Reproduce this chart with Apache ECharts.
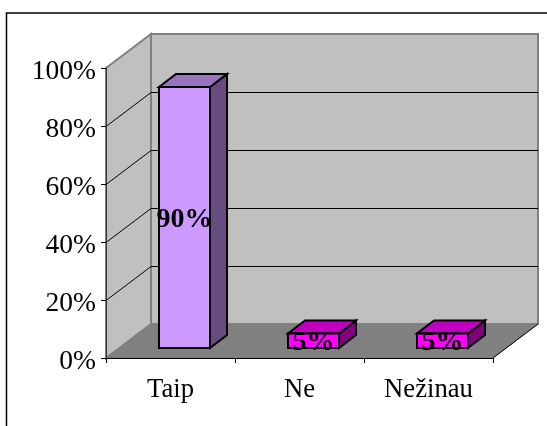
<!DOCTYPE html>
<html>
<head>
<meta charset="utf-8">
<style>
  html, body { margin: 0; padding: 0; background: #fff; }
  #chart { width: 547px; height: 426px; }
</style>
<script src="https://cdn.jsdelivr.net/npm/echarts@6/dist/echarts.min.js"></script>
</head>
<body>
<div id="chart"></div>
<script>
  const categories = ['Taip', 'Ne', 'Nežinau'];
  const shares = [90, 5, 5];
  const gridValues = [20, 40, 60, 80];

  const FONT = '"Liberation Serif", "Times New Roman", serif';
  // depth of the 3d box, in px
  const WALL_DX = 45;
  const WALL_DY = -34;
  const BAR_DX = 17;
  const BAR_DY = -13;
  const BAR_INSET_DX = 14;
  const BAR_INSET_DY = -10;
  const BAR_WIDTH = 51;

  const barStyles = [
    { front: '#CC99FF', top: '#9A73C0', side: '#664C80' },
    { front: '#FF00FF', top: '#C000C0', side: '#800080' },
    { front: '#FF00FF', top: '#C000C0', side: '#800080' }
  ];

  const poly = (points, fill, stroke, lineWidth) => ({
    type: 'polygon',
    shape: { points },
    style: { fill, stroke, lineWidth }
  });

  const line = (a, b, stroke, lineWidth) => ({
    type: 'line',
    shape: { x1: a[0], y1: a[1], x2: b[0], y2: b[1] },
    style: { stroke, lineWidth }
  });

  const renderShell = (params, api) => {
    const { x, y, width, height } = params.coordSys;
    const l = x;
    const r = x + width;
    const t = y;
    const b = y + height;
    return {
      type: 'group',
      children: [
        poly([[l, t], [l + WALL_DX, t + WALL_DY], [l + WALL_DX, b + WALL_DY], [l, b]], '#C0C0C0', '#808080', 2),
        poly([[l + WALL_DX, t + WALL_DY], [r + WALL_DX, t + WALL_DY], [r + WALL_DX, b + WALL_DY], [l + WALL_DX, b + WALL_DY]], '#C0C0C0', '#808080', 2),
        poly([[l, b], [l + WALL_DX, b + WALL_DY], [r + WALL_DX, b + WALL_DY], [r, b]], '#808080', '#808080', 1),
        line([r, b], [r + WALL_DX, b + WALL_DY], '#000', 1)
      ]
    };
  };

  const renderGridLine = (params, api) => {
    const { x, width } = params.coordSys;
    const yy = Math.round(api.coord([0, api.value(0)])[1]) + 0.5;
    const back = [x + WALL_DX, yy + WALL_DY];
    return {
      type: 'group',
      children: [
        line([x, yy], back, '#000', 1),
        line(back, [x + width + WALL_DX, yy + WALL_DY], '#000', 1)
      ]
    };
  };

  const renderBar = (params, api) => {
    const idx = api.value(0);
    const val = api.value(1);
    const base = api.coord([idx, 0]);
    const topPt = api.coord([idx, val]);
    const x0 = base[0] + BAR_INSET_DX - BAR_WIDTH / 2;
    const x1 = x0 + BAR_WIDTH;
    const y0 = base[1] + BAR_INSET_DY;
    const y1 = topPt[1] + BAR_INSET_DY;
    const c = barStyles[params.dataIndex];
    return {
      type: 'group',
      children: [
        poly([[x1, y0], [x1 + BAR_DX, y0 + BAR_DY], [x1 + BAR_DX, y1 + BAR_DY], [x1, y1]], c.side, '#000', 2),
        poly([[x0, y1], [x0 + BAR_DX, y1 + BAR_DY], [x1 + BAR_DX, y1 + BAR_DY], [x1, y1]], c.top, '#000', 2),
        poly([[x0, y0], [x1, y0], [x1, y1], [x0, y1]], c.front, '#000', 2),
        {
          type: 'text',
          style: {
            text: val + '%',
            x: (x0 + x1) / 2,
            y: (y0 + y1) / 2 + 2,
            textAlign: 'center',
            textVerticalAlign: 'middle',
            font: 'bold 28px ' + FONT,
            fill: '#000'
          }
        }
      ]
    };
  };

  const chart = echarts.init(document.getElementById('chart'));

  chart.setOption({
    animation: false,
    backgroundColor: '#fff',
    graphic: [
      // frame only shows left and top, the rest falls off the picture
      {
        type: 'rect',
        shape: { x: 6.5, y: 13, width: 560, height: 440 },
        style: { fill: 'none', stroke: '#000', lineWidth: 1.5 },
        z: 0
      }
    ],
    grid: { left: 106, right: 54, top: 68, bottom: 68 },
    xAxis: {
      type: 'category',
      data: categories,
      axisLine: { show: true, lineStyle: { color: '#000', width: 1 } },
      axisTick: { show: true, length: 5, lineStyle: { color: '#000' } },
      axisLabel: { color: '#000', fontFamily: FONT, fontSize: 26.67, margin: 18 },
      z: 10
    },
    yAxis: {
      type: 'value',
      min: 0,
      max: 100,
      interval: 20,
      splitLine: { show: false },
      axisLine: { show: true, lineStyle: { color: '#333', width: 1 } },
      axisTick: { show: true, length: 5, lineStyle: { color: '#000' } },
      axisLabel: {
        color: '#000',
        fontFamily: FONT,
        fontSize: 27.5,
        margin: 10,
        verticalAlign: 'top',
        lineHeight: 7,
        formatter: '{value}%'
      },
      z: 10
    },
    series: [
      {
        type: 'custom',
        renderItem: renderShell,
        data: [0],
        silent: true,
        z: 1
      },
      {
        type: 'custom',
        renderItem: renderGridLine,
        data: gridValues,
        encode: { y: 0 },
        silent: true,
        z: 2
      },
      {
        type: 'custom',
        renderItem: renderBar,
        data: categories.map((name, i) => [i, shares[i]]),
        encode: { x: 0, y: 1 },
        silent: true,
        z: 3
      }
    ]
  });
</script>
</body>
</html>
